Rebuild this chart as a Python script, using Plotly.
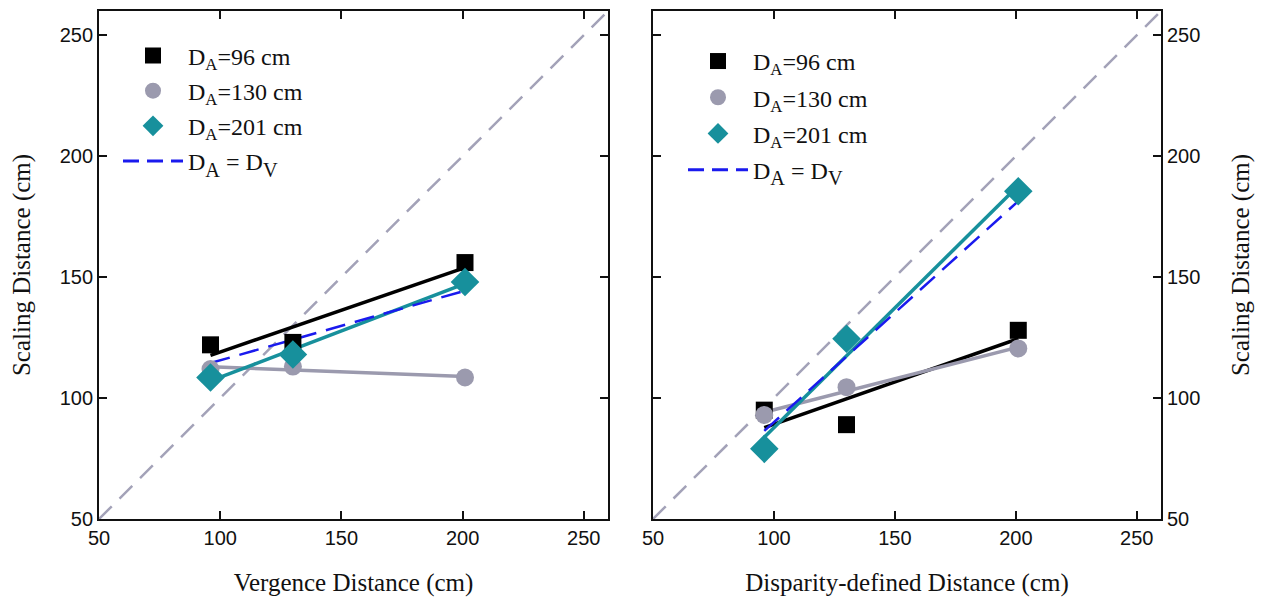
import numpy as np
import plotly.graph_objects as go

# ---- data ----
dist = [96, 130, 201]
left_96 = [122, 123, 156]
left_130 = [112, 113, 108.5]
left_201 = [108.5, 118, 148]
right_96 = [95, 89, 128]
right_130 = [93, 104.5, 120.5]
right_201 = [79, 124.5, 185.5]
diag = [50, 260]
tick_vals = [50, 100, 150, 200, 250]

names = ["D<sub>A</sub>=96 cm", "D<sub>A</sub>=130 cm", "D<sub>A</sub>=201 cm"]
eq_name = "D<span style='font-size:29px'><sub>A</sub></span> = D<span style='font-size:29px'><sub>V</sub></span>"

BLACK = "#000000"
GRAY = "#9b9aae"
TEAL = "#17909c"
BLUE = "#1a1aee"
DIAG = "#a3a2b8"

symbols = ["square", "circle", "diamond"]
msizes = [17, 18, 22]
colors = [BLACK, GRAY, TEAL]

fig = go.Figure()


def fit(xs, ys):
    p = np.polyfit(xs, ys, 1)
    xe = [min(xs), max(xs)]
    return xe, list(np.polyval(p, xe))


def add_panel(series, xa, ya, legend):
    fig.add_trace(go.Scatter(x=diag, y=diag, mode="lines", xaxis=xa, yaxis=ya,
                             line=dict(color=DIAG, width=2.5, dash="18px,11px"),
                             showlegend=False, hoverinfo="skip"))
    for s, c in zip(series, colors):
        xe, ye = fit(dist, s)
        fig.add_trace(go.Scatter(x=xe, y=ye, mode="lines", xaxis=xa, yaxis=ya,
                                 line=dict(color=c, width=3.5), showlegend=False))
    eq = [series[i][i] for i in range(3)]
    xe, ye = fit(dist, eq)
    fig.add_trace(go.Scatter(x=xe, y=ye, mode="lines", xaxis=xa, yaxis=ya,
                             line=dict(color=BLUE, width=2.5, dash="20px,10px"),
                             showlegend=False))
    for s, c, sym, ms, nm in zip(series, colors, symbols, msizes, names):
        fig.add_trace(go.Scatter(x=dist, y=s, mode="markers", xaxis=xa, yaxis=ya,
                                 marker=dict(symbol=sym, color=c, size=ms, line=dict(width=0)),
                                 name=nm, legend=legend, legendgroup=legend + nm))
    fig.add_trace(go.Scatter(x=[None], y=[None], mode="lines", xaxis=xa, yaxis=ya,
                             line=dict(color=BLUE, width=3, dash="16px,8px"),
                             name=eq_name, legend=legend, legendgroup=legend + "eq"))


add_panel([left_96, left_130, left_201], "x", "y", "legend")
add_panel([right_96, right_130, right_201], "x2", "y2", "legend2")

W, H = 1263, 603
ML, MR = 99, 1263 - 1161
PW = W - ML - MR
axis_common = dict(range=[50, 260], tickvals=tick_vals, ticks="inside", ticklen=8,
                   tickwidth=1.8, tickcolor="#111", showline=True, linecolor="#111",
                   linewidth=1.8, mirror="ticks", showgrid=False, zeroline=False,
                   tickfont=dict(family="Liberation Sans, Arial", size=20, color="#111"))
title_font = dict(family="Liberation Serif, Times New Roman", size=25, color="#111")
leg_font = dict(family="Liberation Serif, Times New Roman", size=24, color="#111")

fig.update_layout(
    width=W, height=H,
    margin=dict(l=ML, r=MR, t=9, b=84),
    plot_bgcolor="white", paper_bgcolor="white",
    xaxis=dict(domain=[0, (608 - ML) / PW], anchor="y",
               title=dict(text="Vergence Distance (cm)", font=title_font, standoff=26),
               **axis_common),
    yaxis=dict(domain=[0, 1], anchor="x",
               title=dict(text="Scaling Distance (cm)", font=title_font, standoff=22),
               **axis_common),
    xaxis2=dict(domain=[(653 - ML) / PW, 1], anchor="y2",
                title=dict(text="Disparity-defined Distance (cm)", font=title_font, standoff=26),
                **axis_common),
    yaxis2=dict(domain=[0, 1], anchor="x2", side="right",
                title=dict(text="Scaling Distance (cm)", font=title_font, standoff=32),
                **axis_common),
    legend=dict(x=(118 - ML) / PW, y=0.956, xanchor="left", yanchor="top", itemwidth=60,
                bgcolor="rgba(0,0,0,0)", tracegroupgap=1, font=leg_font),
    legend2=dict(x=(683 - ML) / PW, y=0.945, xanchor="left", yanchor="top", itemwidth=60,
                 bgcolor="rgba(0,0,0,0)", tracegroupgap=2, font=leg_font),
    showlegend=True,
)

fig.write_html("out.html", config={"displayModeBar": False},
               post_script="document.body.style.margin='0px';document.body.style.overflow='hidden';")
